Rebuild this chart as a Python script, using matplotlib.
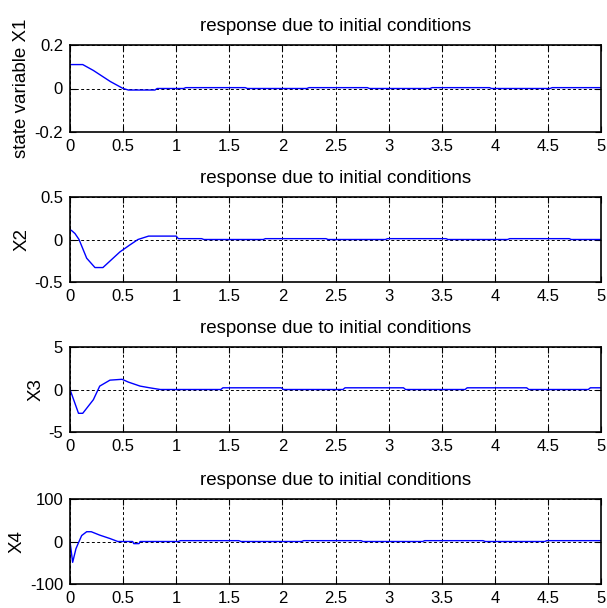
import numpy as np
import matplotlib
matplotlib.use("Agg")
import matplotlib.pyplot as plt

plt.rcParams['font.family'] = ['Liberation Sans', 'DejaVu Sans']
plt.rcParams['axes.unicode_minus'] = False

# values (time in s, piecewise linear)
t1 = [0, 0.12, 0.22, 0.38, 0.5, 0.55, 0.8, 0.82, 1.07, 1.09, 1.65, 1.67, 2.23, 2.25,
      2.80, 2.82, 3.39, 3.41, 3.95, 3.97, 4.52, 4.54, 5]
x1 = [0.11, 0.11, 0.083, 0.032, 0.0, -0.007, -0.007, 0.0, 0.0, 0.004, 0.004, 0.0, 0.0, 0.004,
      0.004, 0.0, 0.0, 0.004, 0.004, 0.0, 0.0, 0.004, 0.004]

t2 = [0, 0.02, 0.047, 0.085, 0.157, 0.235, 0.31, 0.47, 0.56, 0.64, 0.74, 1.0, 1.02,
      1.24, 1.26, 1.82, 1.84, 2.41, 2.43, 2.97, 2.99, 3.54, 3.56, 4.12, 4.14, 4.70, 4.72, 5]
x2 = [0.118, 0.1, 0.07, 0.0, -0.22, -0.33, -0.33, -0.146, -0.067, 0.0, 0.04, 0.04, 0.01,
      0.01, 0.0, 0.0, 0.01, 0.01, 0.0, 0.0, 0.01, 0.01, 0.0, 0.0, 0.01, 0.01, 0.0, 0.0]

t3 = [0, 0.08, 0.12, 0.22, 0.28, 0.376, 0.49, 0.55, 0.66, 0.75, 0.85, 1.42, 1.44, 1.99,
      2.01, 2.57, 2.59, 3.14, 3.16, 3.72, 3.74, 4.30, 4.32, 4.88, 4.90, 5]
x3 = [0.0, -2.8, -2.8, -1.2, 0.4, 1.1, 1.2, 0.87, 0.4, 0.2, 0.0, 0.0, 0.2, 0.2,
      0.0, 0.0, 0.2, 0.2, 0.0, 0.0, 0.2, 0.2, 0.0, 0.0, 0.2, 0.2]

t4 = [0, 0.025, 0.056, 0.078, 0.11, 0.157, 0.2, 0.28, 0.376, 0.45, 0.59, 0.6, 0.65, 0.66,
      1.02, 1.04, 1.59, 1.61, 2.18, 2.20, 2.74, 2.76, 3.32, 3.34, 3.89, 3.91, 4.47, 4.49, 5]
x4 = [0, -49, -17, -4, 14, 23, 23, 15, 7, 0, 0, -5, -5, 0,
      0, 2, 2, 0, 0, 2, 2, 0, 0, 2, 2, 0, 0, 2, 2]

series = [(t1, x1), (t2, x2), (t3, x3), (t4, x4)]
ylims = [0.2, 0.5, 5, 100]
ylabels = ['state variable X1', 'X2', 'X3', 'X4']
xticks = [0, 0.5, 1, 1.5, 2, 2.5, 3, 3.5, 4, 4.5, 5]
xticklabels = ['0', '0.5', '1', '1.5', '2', '2.5', '3', '3.5', '4', '4.5', '5']

W, H = 607, 608
boxes = [(45, 132), (197, 282), (347, 432), (499, 584)]
left, right = 70, 601

fig = plt.figure(figsize=(W / 100, H / 100), dpi=100)

for (t, x), lim, lab, (top, bot) in zip(series, ylims, ylabels, boxes):
    ax = fig.add_axes([left / W, 1 - bot / H, (right - left) / W, (bot - top) / H])
    ax.plot(t, x, color='#0000ff', linewidth=1)
    ax.set_xlim(0, 5)
    ax.set_ylim(-lim, lim)
    ax.set_xticks(xticks)
    ax.set_xticklabels(xticklabels)
    yt = [-lim, 0, lim]
    ax.set_yticks(yt)
    ax.set_yticklabels([('%g' % v) for v in yt])
    ax.grid(True, color='black', linestyle=(0, (3, 2.5)), linewidth=0.7)
    ax.tick_params(direction='in', top=True, right=True, length=4, labelsize=12, pad=5)
    for s in ax.spines.values():
        s.set_linewidth(1.2)
    ax.set_title('response due to initial conditions', fontsize=13.5, pad=10)
    ax.set_ylabel(lab, fontsize=13.5, labelpad=3)

fig.savefig('out.png', dpi=100)
